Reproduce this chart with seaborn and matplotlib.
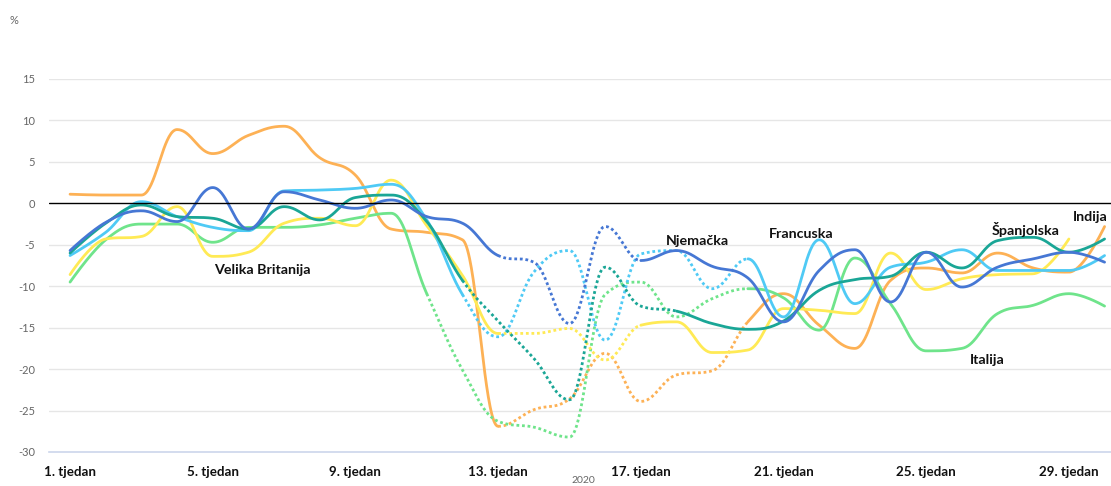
import numpy as np
import pandas as pd
import matplotlib
matplotlib.use("Agg")
import matplotlib.pyplot as plt
import seaborn as sns

# ---------------- data ----------------
weeks = list(range(1, 31))

indija = [1.1, 1.0, 1.0, 8.9, 6.0, 8.2, 9.3, 5.5, 3.4, -3.1,
          -3.5, -4.4, -26.9, -24.9, -23.6, -18.1, -23.9, -20.7, -20.2, -14.3,
          -10.9, -14.7, -17.5, -9.3, -7.8, -8.4, -6.0, -7.8, -8.3, -2.8]
njemacka = [-5.7, -2.3, -0.9, -2.2, 1.9, -3.1, 1.4, 0.4, -0.6, 0.4,
            -1.6, -2.4, -6.3, -7.1, -14.5, -2.8, -6.9, -5.7, -7.6, -9.0,
            -14.3, -8.1, -5.6, -11.9, -5.9, -10.1, -7.7, -6.7, -5.9, -7.1]
francuska = [-6.3, -3.5, 0.2, -1.6, -2.9, -3.3, 1.5, 1.6, 1.8, 2.3,
             -2.0, -11.0, -16.1, -8.3, -5.7, -16.5, -6.1, -5.7, -10.3, -6.7,
             -13.7, -4.4, -12.1, -7.7, -7.1, -5.6, -8.1, -8.1, -8.1, -6.3]
spanjolska = [-6.0, -2.4, -0.2, -1.6, -1.8, -3.1, -0.4, -2.0, 0.7, 1.0,
              -2.2, -9.3, -14.2, -18.7, -23.7, -7.7, -12.4, -13.0, -14.5, -15.2,
              -14.2, -10.5, -9.2, -8.8, -5.9, -7.8, -4.5, -4.1, -5.9, -4.3]
italija = [-9.5, -4.4, -2.5, -2.5, -4.7, -2.9, -2.9, -2.6, -1.8, -1.2,
           -10.9, -20.1, -26.3, -27.0, -28.2, -11.0, -9.5, -13.7, -11.5, -10.3,
           -11.4, -15.3, -6.6, -12.1, -17.8, -17.5, -13.3, -12.3, -10.9, -12.4]
velika_britanija = [-8.6, -4.3, -4.0, -0.4, -6.4, -5.9, -2.4, -1.8, -2.7, 2.8,
                    -2.7, -8.7, -15.7, -15.7, -15.1, -18.9, -14.7, -14.3, -18.0, -17.7,
                    -12.7, -12.9, -13.3, -6.0, -10.4, -9.1, -8.6, -8.5, -4.3, np.nan]

series_names = ["Indija", "Italija", "Velika Britanija", "Francuska", "Španjolska", "Njemačka"]
series_values = {
    "Indija": indija,
    "Italija": italija,
    "Velika Britanija": velika_britanija,
    "Francuska": francuska,
    "Španjolska": spanjolska,
    "Njemačka": njemacka,
}
# weeks between which each line is drawn dotted
dotted_from = {"Indija": 13, "Italija": 11, "Velika Britanija": 13,
               "Francuska": 12, "Španjolska": 12, "Njemačka": 13}
dotted_to = {"Indija": 20, "Italija": 20, "Velika Britanija": 17,
             "Francuska": 20, "Španjolska": 18, "Njemačka": 17}

tick_weeks = [1, 5, 9, 13, 17, 21, 25, 29]
tick_labels = [f"{w}. tjedan" for w in tick_weeks]
y_ticks = [-30, -25, -20, -15, -10, -5, 0, 5, 10, 15]

label_text = ["Velika Britanija", "Njemačka", "Francuska", "Španjolska", "Indija", "Italija"]
label_week = [6.4, 18.6, 21.5, 27.8, 29.6, 26.7]
label_value = [-8.1, -4.5, -3.7, -3.1, -1.7, -18.9]

# ---------------- style ----------------
colors = {
    "Indija": "#fdb155",
    "Italija": "#6fe48b",
    "Velika Britanija": "#ffea55",
    "Francuska": "#4fcaf5",
    "Španjolska": "#1aa696",
    "Njemačka": "#4677d4",
}


def hc_spline(xs, ys, n=40, smoothing=1.5):
    """Highcharts-like spline through the points (cubic Bezier segments)."""
    xs = np.asarray(xs, float)
    ys = np.asarray(ys, float)
    N = len(xs)
    lcx, lcy, rcx, rcy = xs.copy(), ys.copy(), xs.copy(), ys.copy()
    d = smoothing + 1
    for i in range(1, N - 1):
        lx0, ly0 = xs[i - 1], ys[i - 1]
        nx, ny = xs[i + 1], ys[i + 1]
        px, py = xs[i], ys[i]
        lx = (smoothing * px + lx0) / d
        ly = (smoothing * py + ly0) / d
        rx = (smoothing * px + nx) / d
        ry = (smoothing * py + ny) / d
        if rx != lx:
            corr = (ry - ly) * (rx - px) / (rx - lx) + py - ry
            ly += corr
            ry += corr
        if ly > ly0 and ly > py:
            ly = max(ly0, py); ry = 2 * py - ly
        elif ly < ly0 and ly < py:
            ly = min(ly0, py); ry = 2 * py - ly
        if ry > ny and ry > py:
            ry = max(ny, py); ly = 2 * py - ry
        elif ry < ny and ry < py:
            ry = min(ny, py); ly = 2 * py - ry
        lcx[i], lcy[i], rcx[i], rcy[i] = lx, ly, rx, ry
    t = np.linspace(0, 1, n)[:, None]
    outx, outy = [], []
    for i in range(N - 1):
        P = np.array([[xs[i], ys[i]], [rcx[i], rcy[i]],
                      [lcx[i + 1], lcy[i + 1]], [xs[i + 1], ys[i + 1]]])
        B = ((1 - t) ** 3) * P[0] + 3 * ((1 - t) ** 2) * t * P[1] + \
            3 * (1 - t) * t ** 2 * P[2] + t ** 3 * P[3]
        if i > 0:
            B = B[1:]
        outx.append(B[:, 0]); outy.append(B[:, 1])
    return np.concatenate(outx), np.concatenate(outy)


sns.set_style("white")
plt.rcParams["font.family"] = ["Lato", "DejaVu Sans"]

W, H = 1111, 486
fig = plt.figure(figsize=(W / 100, H / 100), dpi=100)
ax = fig.add_axes([49 / W, 34 / H, 1062 / W, 373 / H])

x_lo, x_hi = 0.41, 30.18
ax.set_xlim(x_lo, x_hi)
ax.set_ylim(-30, 15)

# grid
for v in y_ticks:
    if v == 0:
        ax.axhline(0, color="black", lw=1.0, zorder=5)
    elif v == -30:
        pass
    else:
        ax.axhline(v, color="#e6e6e6", lw=1.0, zorder=0)

for name in series_names:
    vals = np.array(series_values[name], float)
    wk = np.array(weeks, float)
    m = ~np.isnan(vals)
    sx, sy = hc_spline(wk[m], vals[m])
    a, b = dotted_from[name], dotted_to[name]
    parts = [
        (sx <= a, "-"),
        ((sx >= a) & (sx <= b), (0, (1.0, 1.0))),
        (sx >= b, "-"),
    ]
    for mask, ls in parts:
        if mask.sum() < 2:
            continue
        df = pd.DataFrame({"week": sx[mask], "value": sy[mask]})
        sns.lineplot(data=df, x="week", y="value", ax=ax, sort=False,
                     estimator=None, color=colors[name], linewidth=2.0,
                     linestyle=ls, zorder=3)

# labels on lines
for txt, wx, vy in zip(label_text, label_week, label_value):
    ax.text(wx, vy, txt, ha="center", va="center", fontsize=10.3,
            fontweight="bold", color="#111111", zorder=6)

# axes styling
for s in ["top", "right", "left"]:
    ax.spines[s].set_visible(False)
ax.spines["bottom"].set_color("#ccd6eb")
ax.spines["bottom"].set_linewidth(1.2)
ax.set_xticks(tick_weeks)
ax.set_xticklabels(tick_labels, fontsize=9.6, fontweight="bold", color="#111111")
ax.tick_params(axis="x", length=7, width=1, color="#555555", pad=3)
ax.set_yticks(y_ticks)
ax.set_yticklabels([str(v) for v in y_ticks], fontsize=8, color="#666666")
ax.tick_params(axis="y", length=0, pad=10)
ax.set_xlabel("")
ax.set_ylabel("")

fig.text(10 / W, 1 - 20 / H, "%", fontsize=8, color="#666666", va="center")
fig.text(583 / W, 1 / H, "2020", fontsize=7.5, color="#666666", ha="center", va="bottom")

fig.savefig("out.png", dpi=100)
